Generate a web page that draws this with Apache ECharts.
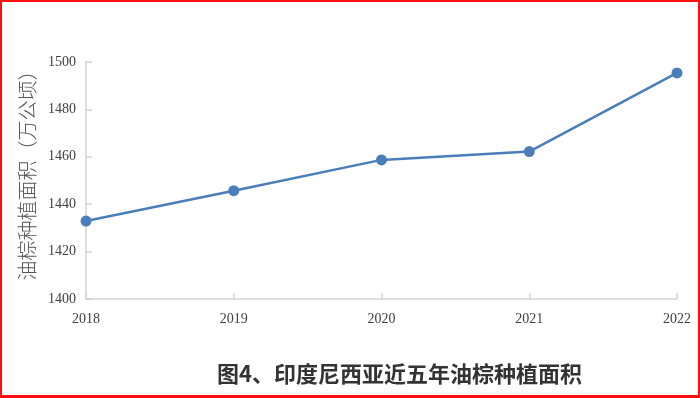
<!DOCTYPE html>
<html>
<head>
<meta charset="utf-8">
<script src="https://cdn.jsdelivr.net/npm/echarts@6/dist/echarts.min.js"></script>
<style>
  html, body { margin: 0; padding: 0; background: #fff; }
  #frame { width: 700px; height: 398px; box-sizing: border-box; border: 2px solid #ff1010; border-bottom-width: 3px; position: relative; }
  #chart { position: absolute; left: -2px; top: -2px; width: 700px; height: 398px; }
</style>
</head>
<body>
<div id="frame"><div id="chart"></div></div>
<script>
var years = ['2018', '2019', '2020', '2021', '2022'];
var area = [1432.9, 1445.7, 1458.7, 1462.2, 1495.4];
var yTicks = { min: 1400, max: 1500, interval: 20 };
var yName = '油棕种植面积（万公顷）';
var caption = '图4、印度尼西亚近五年油棕种植面积';

var chart = echarts.init(document.getElementById('chart'));

var axisGrey = '#d4d4d4';
var labelColor = '#404040';
var serif = '"Liberation Serif", "Times New Roman", serif';

var option = {
    animation: false,
    backgroundColor: 'transparent',
    title: {
        text: caption,
        left: 212,
        top: 358,
        textStyle: {
            fontFamily: '"Noto Sans CJK SC"',
            fontWeight: 'bold',
            fontSize: 22,
            color: '#333'
        }
    },
    grid: {
        left: 86,
        right: 23,
        top: 62,
        bottom: 99
    },
    xAxis: {
        type: 'category',
        data: years,
        boundaryGap: false,
        axisLine: { lineStyle: { color: axisGrey, width: 1.5 } },
        // ticks point up into the plot
        axisTick: { show: true, inside: true, length: 6, lineStyle: { color: axisGrey, width: 1.5 } },
        axisLabel: {
            margin: 13,
            fontFamily: serif,
            fontSize: 14,
            color: labelColor,
            showMinLabel: true,
            showMaxLabel: true
        },
        splitLine: { show: false }
    },
    yAxis: {
        type: 'value',
        min: yTicks.min,
        max: yTicks.max,
        interval: yTicks.interval,
        name: yName,
        nameLocation: 'middle',
        nameRotate: 90,
        nameGap: 42,
        nameTextStyle: {
            fontFamily: '"Noto Sans CJK SC"',
            fontSize: 20,
            fontWeight: 300,
            color: '#555',
            padding: [0, 0, 0, 20]
        },
        axisLine: { show: true, lineStyle: { color: axisGrey, width: 1.5 } },
        axisTick: { show: true, inside: true, length: 6, lineStyle: { color: axisGrey, width: 1.5 } },
        axisLabel: {
            margin: 10,
            fontFamily: serif,
            fontSize: 14,
            color: labelColor,
            formatter: function (v) { return String(v); }
        },
        splitLine: { show: false }
    },
    series: [{
        type: 'line',
        data: area,
        symbol: 'circle',
        symbolSize: 11,
        lineStyle: { color: '#4a7ebb', width: 2.5 },
        itemStyle: { color: '#4a7ebb' }
    }]
};

chart.setOption(option);
</script>
</body>
</html>
